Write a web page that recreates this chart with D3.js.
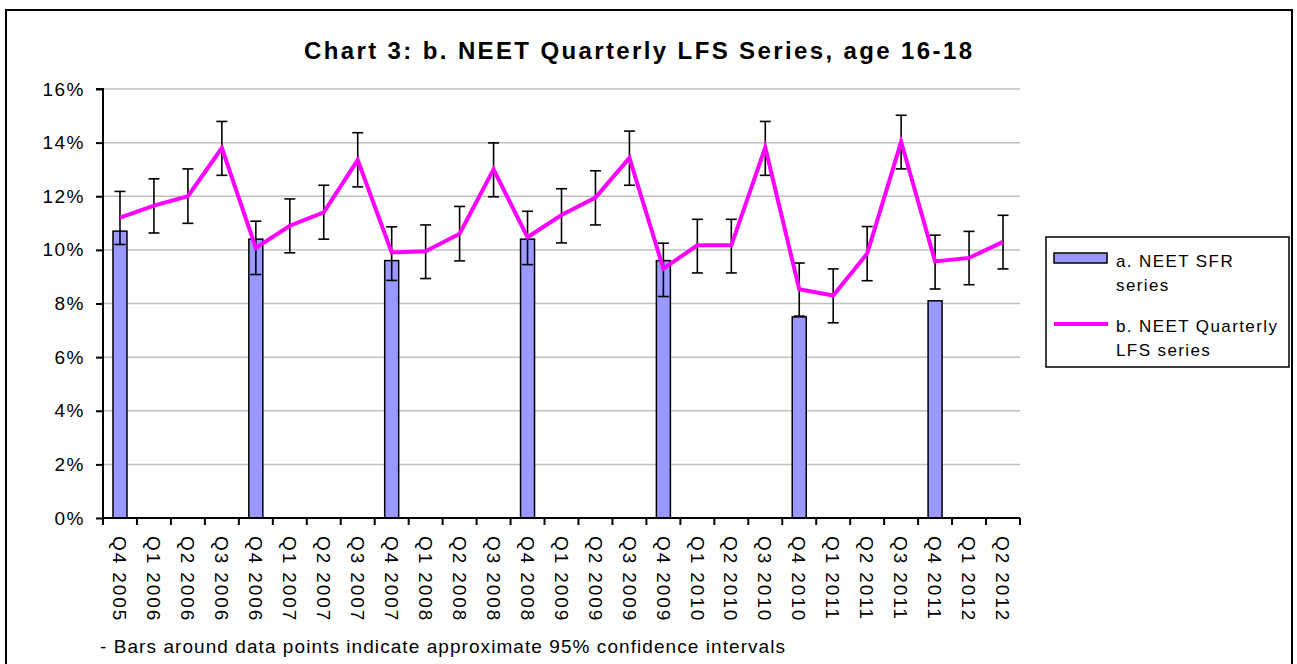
<!DOCTYPE html>
<html lang="en">
<head>
    <meta charset="UTF-8">
    <title>Chart 3: b. NEET Quarterly LFS Series, age 16-18</title>
    <script src="https://d3js.org/d3.v7.min.js"></script>
    <style>
        body { margin: 0; background: #fff; }
        svg text { font-family: Arial, "Liberation Sans", sans-serif; fill: #000; }
    </style>
</head>
<body>
    <svg id="chart" width="1297" height="664"></svg>

    <script>
        const categories = ["Q4 2005", "Q1 2006", "Q2 2006", "Q3 2006", "Q4 2006", "Q1 2007", "Q2 2007", "Q3 2007",
            "Q4 2007", "Q1 2008", "Q2 2008", "Q3 2008", "Q4 2008", "Q1 2009", "Q2 2009", "Q3 2009",
            "Q4 2009", "Q1 2010", "Q2 2010", "Q3 2010", "Q4 2010", "Q1 2011", "Q2 2011", "Q3 2011",
            "Q4 2011", "Q1 2012", "Q2 2012"];

        // a. NEET SFR series (only Q4 values)
        const sfrValues = [10.7, null, null, null, 10.4, null, null, null, 9.6, null, null, null, 10.4, null, null, null,
            9.6, null, null, null, 7.5, null, null, null, 8.1, null, null];

        // b. NEET Quarterly LFS series
        const lfsValues = [11.2, 11.65, 12.0, 13.8, 10.07, 10.9, 11.4, 13.35, 9.9, 9.95, 10.6, 13.0, 10.47, 11.3, 11.95, 13.43,
            9.3, 10.17, 10.17, 13.82, 8.53, 8.3, 9.86, 14.03, 9.57, 9.7, 10.3];
        const lfsHigh = [12.18, 12.65, 13.02, 14.79, 11.07, 11.9, 12.41, 14.37, 10.86, 10.93, 11.62, 13.99, 11.44, 12.28, 12.95, 14.43,
            10.25, 11.14, 11.14, 14.79, 9.51, 9.29, 10.87, 15.02, 10.55, 10.69, 11.29];
        const lfsLow = [10.2, 10.63, 10.99, 12.78, 9.08, 9.89, 10.4, 12.35, 8.86, 8.93, 9.59, 11.98, 9.45, 10.26, 10.93, 12.41,
            8.26, 9.14, 9.14, 12.78, 7.53, 7.28, 8.85, 13.02, 8.54, 8.7, 9.29];

        const yTicks = [0, 2, 4, 6, 8, 10, 12, 14, 16];

        const svg = d3.select("#chart");

        // outer frame
        svg.append("rect")
            .attr("x", 6).attr("y", 10)
            .attr("width", 1286).attr("height", 670)
            .attr("fill", "none").attr("stroke", "#000").attr("stroke-width", 2);

        const plotLeft = 103, plotRight = 1020, plotTop = 89, plotBottom = 518;

        const x = d3.scaleBand().domain(categories).range([plotLeft, plotRight]).padding(0);
        const y = d3.scaleLinear().domain([0, 16]).range([plotBottom, plotTop]);
        const cx = d => x(d) + x.bandwidth() / 2;

        // gridlines
        svg.append("g")
            .selectAll("line")
            .data(yTicks.filter(t => t > 0))
            .enter().append("line")
            .attr("x1", plotLeft).attr("x2", plotRight)
            .attr("y1", d => y(d)).attr("y2", d => y(d))
            .attr("stroke", "#c0c0c0").attr("stroke-width", 1.5);

        // bars
        const barW = 14;
        svg.append("g")
            .selectAll("rect")
            .data(categories.map((c, i) => ({ c, v: sfrValues[i] })).filter(d => d.v !== null))
            .enter().append("rect")
            .attr("x", d => cx(d.c) - barW / 2)
            .attr("y", d => y(d.v))
            .attr("width", barW)
            .attr("height", d => y(0) - y(d.v))
            .attr("fill", "#9999ff")
            .attr("stroke", "#000").attr("stroke-width", 1.5);

        // y axis
        const yAxis = d3.axisLeft(y).tickValues(yTicks).tickSize(7).tickFormat(d => d + "%");
        const gy = svg.append("g").attr("transform", `translate(${plotLeft},0)`).call(yAxis);
        gy.select(".domain").attr("stroke", "#000").attr("stroke-width", 2).attr("d", `M-7,${plotTop}H0V${plotBottom}`);
        gy.selectAll(".tick line").attr("stroke", "#000").attr("stroke-width", 2);
        gy.selectAll(".tick text")
            .attr("x", -18)
            .style("font-size", "19px")
            .style("letter-spacing", "1.5px")
            .style("font-family", "Arial, 'Liberation Sans', sans-serif");

        // x axis
        const xAxis = d3.axisBottom(x).tickSize(0).tickFormat("");
        const gx = svg.append("g").attr("transform", `translate(0,${plotBottom})`).call(xAxis);
        gx.select(".domain").attr("stroke", "#000").attr("stroke-width", 2).attr("d", `M${plotLeft},0H${plotRight}`);
        gx.selectAll(".tick").remove();
        gx.selectAll("line.sep")
            .data(categories.concat(["end"]))
            .enter().append("line")
            .attr("class", "sep")
            .attr("x1", (d, i) => i < categories.length ? x(d) : plotRight)
            .attr("x2", (d, i) => i < categories.length ? x(d) : plotRight)
            .attr("y1", 0).attr("y2", 7)
            .attr("stroke", "#000").attr("stroke-width", 2);

        svg.append("g")
            .selectAll("text")
            .data(categories)
            .enter().append("text")
            .attr("transform", d => `translate(${cx(d)},536) rotate(90)`)
            .attr("dy", "0.36em")
            .style("font-size", "19px")
            .style("letter-spacing", "1.9px")
            .text(d => d);

        // error bars
        const capW = 11;
        const eg = svg.append("g").attr("stroke", "#000").attr("stroke-width", 1.6);
        categories.forEach((c, i) => {
            const px = cx(c);
            eg.append("line").attr("x1", px).attr("x2", px).attr("y1", y(lfsLow[i])).attr("y2", y(lfsHigh[i]));
            eg.append("line").attr("x1", px - capW / 2).attr("x2", px + capW / 2).attr("y1", y(lfsLow[i])).attr("y2", y(lfsLow[i]));
            eg.append("line").attr("x1", px - capW / 2).attr("x2", px + capW / 2).attr("y1", y(lfsHigh[i])).attr("y2", y(lfsHigh[i]));
        });

        // LFS line
        const line = d3.line().x((d, i) => cx(categories[i])).y(d => y(d));
        svg.append("path")
            .datum(lfsValues)
            .attr("d", line)
            .attr("fill", "none")
            .attr("stroke", "#ff00ff")
            .attr("stroke-width", 4)
            .attr("stroke-linejoin", "miter");

        // title
        svg.append("text")
            .attr("x", 304).attr("y", 59)
            .style("font-size", "24px")
            .style("font-weight", "bold")
            .attr("textLength", 668)
            .attr("lengthAdjust", "spacing")
            .text("Chart 3: b. NEET Quarterly LFS Series, age 16-18");

        // legend
        const lg = svg.append("g");
        lg.append("rect").attr("x", 1046).attr("y", 237).attr("width", 243).attr("height", 130)
            .attr("fill", "#fff").attr("stroke", "#000").attr("stroke-width", 1.5);
        lg.append("rect").attr("x", 1054).attr("y", 253).attr("width", 53).attr("height", 10)
            .attr("fill", "#9999ff").attr("stroke", "#000").attr("stroke-width", 1.5);
        lg.append("line").attr("x1", 1054).attr("x2", 1108).attr("y1", 324).attr("y2", 324)
            .attr("stroke", "#ff00ff").attr("stroke-width", 4);
        const legendLines = [["a. NEET SFR", 267], ["series", 291], ["b. NEET Quarterly", 332], ["LFS series", 356]];
        lg.selectAll("text.lt")
            .data(legendLines)
            .enter().append("text")
            .attr("class", "lt")
            .attr("x", 1116).attr("y", d => d[1])
            .style("font-size", "17px")
            .style("letter-spacing", "1.4px")
            .text(d => d[0]);

        // note
        svg.append("text")
            .attr("x", 100).attr("y", 653)
            .style("font-size", "19px")
            .attr("textLength", 685)
            .attr("lengthAdjust", "spacing")
            .text("- Bars around data points indicate approximate 95% confidence intervals");
    </script>
</body>
</html>
